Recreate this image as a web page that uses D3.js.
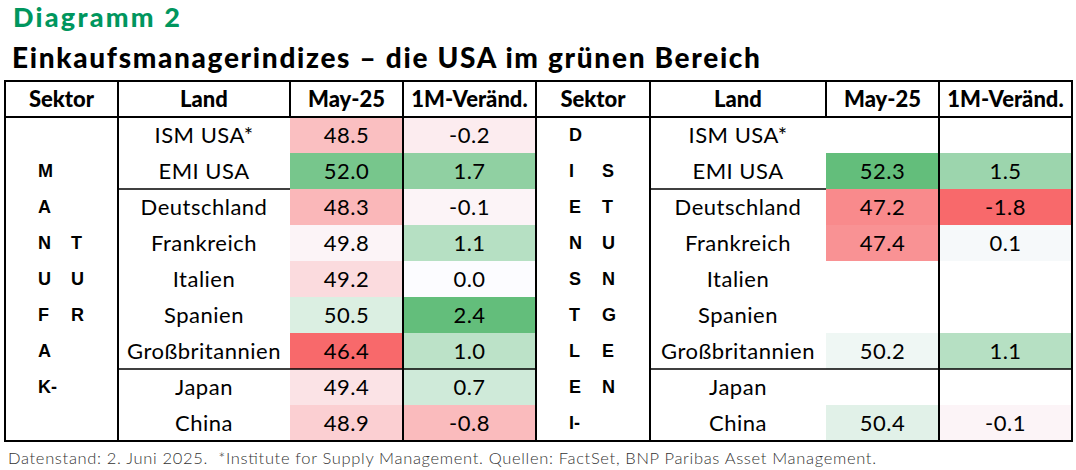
<!DOCTYPE html>
<html>
<head>
<meta charset="utf-8">
<script src="https://cdn.jsdelivr.net/npm/d3@7"></script>
<style>
  body { margin: 0; background: #fff; }
  svg text { font-family: Lato, "Open Sans", sans-serif; }
  svg text.heavy { font-family: "Lato Black", "Lato Heavy", Lato, sans-serif; }
</style>
</head>
<body>
<div id="chart"></div>
<script>
// Daten
const spalten = ["Sektor", "Land", "May-25", "1M-Veränd."];
const laender = ["ISM USA*", "EMI USA", "Deutschland", "Frankreich", "Italien", "Spanien", "Großbritannien", "Japan", "China"];

const industrieMai = [48.5, 52.0, 48.3, 49.8, 49.2, 50.5, 46.4, 49.4, 48.9];
const industrieAenderung = [-0.2, 1.7, -0.1, 1.1, 0.0, 2.4, 1.0, 0.7, -0.8];
const dienstMai = [null, 52.3, 47.2, 47.4, null, null, 50.2, null, 50.4];
const dienstAenderung = [null, 1.5, -1.8, 0.1, null, null, 1.1, null, -0.1];

// Sektor-Beschriftung, zweispaltig von oben nach unten
const industrieSektor1 = ["", "M", "A", "N", "U", "F", "A", "K-", ""];
const industrieSektor2 = ["", "", "", "T", "U", "R", "", "", ""];
const dienstSektor1 = ["D", "I", "E", "N", "S", "T", "L", "E", "I-"];
const dienstSektor2 = ["", "S", "T", "U", "N", "G", "E", "N", ""];

// Trennlinien nach diesen Zeilen
const gruppenEnde = ["EMI USA", "Großbritannien"];

const config = {
  width: 1076,
  height: 470,
  tableTop: 81,
  headerBottom: 117,
  tableBottom: 441,
  left: { edges: [5, 118, 290, 403, 536] },
  right: { edges: [536, 650, 826, 939, 1072] },
};

const svg = d3
  .select("#chart")
  .append("svg")
  .attr("width", config.width)
  .attr("height", config.height);

const yScale = d3
  .scaleBand()
  .domain(laender)
  .range([config.headerBottom, config.tableBottom]);

const alleMai = industrieMai.concat(dienstMai).filter((d) => d != null);
const alleAenderung = industrieAenderung.concat(dienstAenderung).filter((d) => d != null);

const maiColor = d3
  .scaleLinear()
  .domain([d3.min(alleMai), 50, d3.max(alleMai)])
  .range(["#F8696B", "#FCFCFF", "#63BE7B"])
  .interpolate(d3.interpolateRgb);

const aenderungColor = d3
  .scaleLinear()
  .domain([d3.min(alleAenderung), 0, d3.max(alleAenderung)])
  .range(["#F8696B", "#FCFCFF", "#63BE7B"])
  .interpolate(d3.interpolateRgb);

// Titel
svg
  .append("text")
  .attr("class", "heavy")
  .attr("x", 13)
  .attr("y", 27)
  .attr("fill", "#00965E")
  .attr("font-weight", 900)
  .attr("font-size", 27)
  .attr("textLength", 167)
  .text("Diagramm 2");

svg
  .append("text")
  .attr("class", "heavy")
  .attr("x", 12)
  .attr("y", 68)
  .attr("fill", "#000")
  .attr("font-weight", 900)
  .attr("font-size", 28)
  .attr("textLength", 748)
  .text("Einkaufsmanagerindizes – die USA im grünen Bereich");

function drawTable(side, maiValues, aenderungValues, sektor1, sektor2) {
  const edges = config[side].edges;
  const g = svg.append("g").attr("class", `table-${side}`);
  const cx = (i) => (edges[i] + edges[i + 1]) / 2;

  // erste Gruppenlinie liegt unter den Farbflächen
  g.append("line")
    .attr("x1", edges[1])
    .attr("x2", edges[4])
    .attr("y1", yScale(gruppenEnde[0]) + yScale.bandwidth())
    .attr("y2", yScale(gruppenEnde[0]) + yScale.bandwidth())
    .attr("stroke", "#000")
    .attr("stroke-width", 1.5);

  const rows = laender.map((land, i) => ({
    land,
    mai: maiValues[i],
    aenderung: aenderungValues[i],
    s1: sektor1[i],
    s2: sektor2[i],
  }));

  // Farbflächen
  g.selectAll("rect.mai")
    .data(rows.filter((d) => d.mai != null))
    .join("rect")
    .attr("class", "mai")
    .attr("x", edges[2])
    .attr("y", (d) => yScale(d.land))
    .attr("width", edges[3] - edges[2])
    .attr("height", yScale.bandwidth())
    .attr("fill", (d) => maiColor(d.mai));

  g.selectAll("rect.aend")
    .data(rows.filter((d) => d.aenderung != null))
    .join("rect")
    .attr("class", "aend")
    .attr("x", edges[3])
    .attr("y", (d) => yScale(d.land))
    .attr("width", edges[4] - edges[3])
    .attr("height", yScale.bandwidth())
    .attr("fill", (d) => aenderungColor(d.aenderung));

  // Kopfzeile
  g.selectAll("text.head")
    .data(spalten)
    .join("text")
    .attr("class", "head heavy")
    .attr("x", (d, i) => cx(i))
    .attr("y", (config.tableTop + config.headerBottom) / 2)
    .attr("dy", "0.36em")
    .attr("text-anchor", "middle")
    .attr("font-weight", 900)
    .attr("font-size", 22)
    .text((d) => d);

  // Zeilen
  const rowG = g
    .selectAll("g.row")
    .data(rows)
    .join("g")
    .attr("class", "row")
    .attr("transform", (d) => `translate(0,${yScale(d.land) + yScale.bandwidth() / 2})`);

  const cellText = (sel, x) =>
    sel
      .append("text")
      .attr("x", x)
      .attr("dy", "0.36em")
      .attr("text-anchor", "middle")
      .attr("font-size", 22)
      .attr("letter-spacing", 0.5);

  cellText(rowG, cx(1)).text((d) => d.land);
  cellText(rowG, cx(2)).text((d) => (d.mai == null ? "" : d3.format(".1f")(d.mai)));
  cellText(rowG, cx(3)).text((d) =>
    d.aenderung == null ? "" : d3.format(".1f")(d.aenderung).replace("−", "-")
  );

  rowG
    .append("text")
    .attr("x", edges[0] + 33)
    .attr("dy", "0.36em")
    .style("font-family", "'Liberation Sans', Arial, sans-serif")
    .attr("font-weight", 700)
    .attr("font-size", 18)
    .text((d) => d.s1);

  rowG
    .append("text")
    .attr("x", edges[0] + 66)
    .attr("dy", "0.36em")
    .style("font-family", "'Liberation Sans', Arial, sans-serif")
    .attr("font-weight", 700)
    .attr("font-size", 18)
    .text((d) => d.s2);

  // Linien
  const lines = g.append("g").attr("stroke", "#000").attr("stroke-width", 2);

  lines
    .append("rect")
    .attr("x", edges[0])
    .attr("y", config.tableTop)
    .attr("width", edges[4] - edges[0])
    .attr("height", config.tableBottom - config.tableTop)
    .attr("fill", "none");

  lines
    .append("line")
    .attr("x1", edges[0])
    .attr("x2", edges[4])
    .attr("y1", config.headerBottom)
    .attr("y2", config.headerBottom);

  [1, 3].forEach((i) => {
    lines
      .append("line")
      .attr("x1", edges[i])
      .attr("x2", edges[i])
      .attr("y1", config.tableTop)
      .attr("y2", config.tableBottom);
  });

  lines
    .append("line")
    .attr("x1", edges[2])
    .attr("x2", edges[2])
    .attr("y1", config.tableTop)
    .attr("y2", config.headerBottom);

  const y2 = yScale(gruppenEnde[1]) + yScale.bandwidth();
  lines
    .append("line")
    .attr("x1", edges[1])
    .attr("x2", edges[4])
    .attr("y1", y2)
    .attr("y2", y2)
    .attr("stroke-width", 1.5);
}

drawTable("left", industrieMai, industrieAenderung, industrieSektor1, industrieSektor2);
drawTable("right", dienstMai, dienstAenderung, dienstSektor1, dienstSektor2);

// Fußnote
svg
  .append("text")
  .attr("x", 8)
  .attr("y", 464)
  .attr("fill", "#333")
  .attr("font-weight", 300)
  .attr("font-size", 16.5)
  .attr("textLength", 868)
  .style("white-space", "pre")
  .text("Datenstand: 2. Juni 2025.  *Institute for Supply Management. Quellen: FactSet, BNP Paribas Asset Management.");
</script>
</body>
</html>
